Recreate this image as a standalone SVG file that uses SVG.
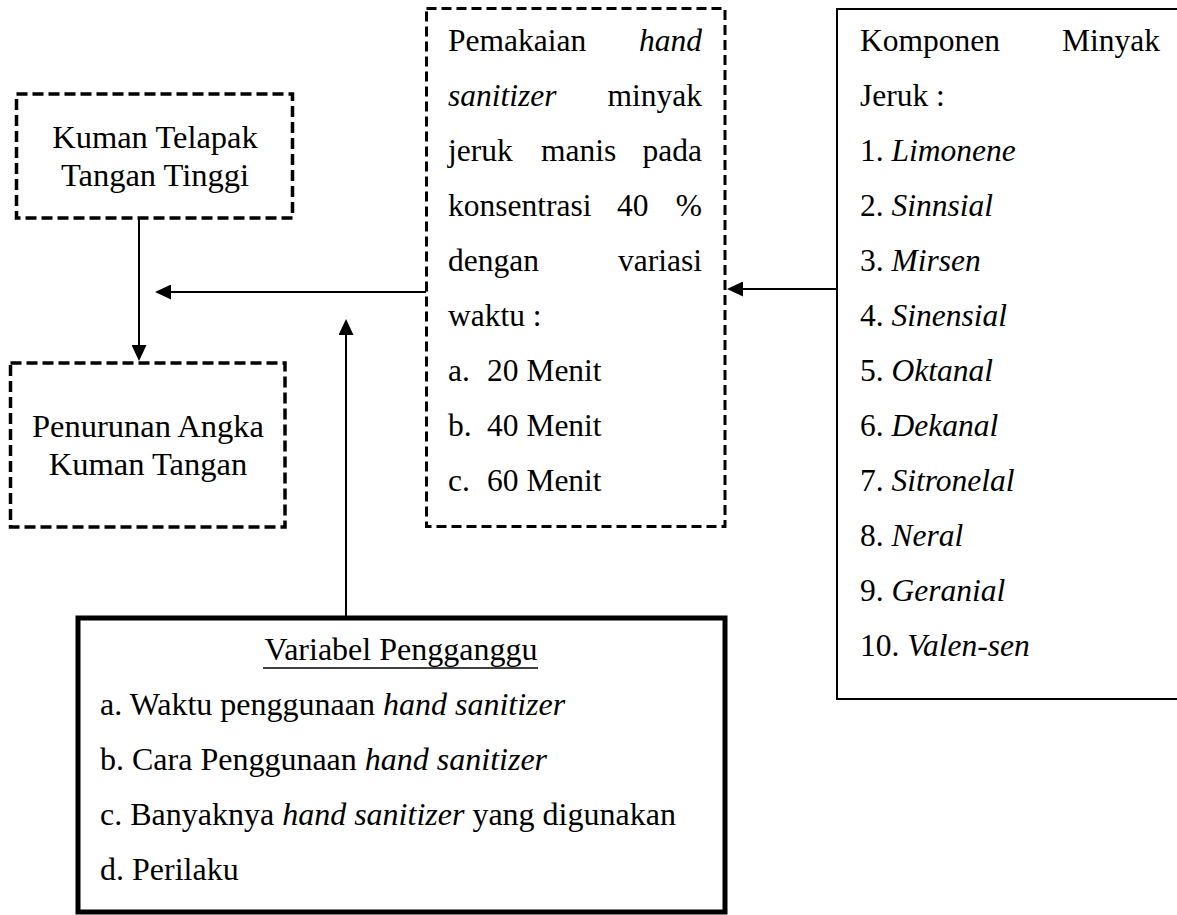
<svg xmlns="http://www.w3.org/2000/svg" width="1177" height="915" viewBox="0 0 1177 915">
  <style>
    text { font-family: "Liberation Serif", "Times New Roman", serif; font-size: 31.5px; fill: #000; }
    .big { font-size: 32.5px; }
    .bot { font-size: 32px; }
    .it { font-style: italic; }
    .mid { text-anchor: middle; }
    .end { text-anchor: end; }
    .dash1 { fill: #fff; stroke: #000; stroke-width: 3.5; stroke-dasharray: 11 5; }
    .dash2 { fill: #fff; stroke: #000; stroke-width: 3; stroke-dasharray: 10 5; }
    .solid { fill: #fff; stroke: #000; stroke-width: 2; }
    .thick { fill: #fff; stroke: #000; stroke-width: 5; }
    .conn { stroke: #000; stroke-width: 2; fill: none; marker-end: url(#arrow); }
  </style>
  <defs>
    <marker id="arrow" markerUnits="userSpaceOnUse" markerWidth="16" markerHeight="15" refX="14" refY="7.5" orient="auto">
      <path d="M0,0 L16,7.5 L0,15 Z" fill="#000"/>
    </marker>
  </defs>
  <rect width="1177" height="915" fill="#fff"/>

  <g id="connectors">
    <line class="conn" x1="139" y1="218" x2="139" y2="359"/>
    <line class="conn" x1="426" y1="292" x2="157" y2="292"/>
    <line class="conn" x1="837" y1="289" x2="729" y2="289"/>
    <line class="conn" x1="346" y1="616" x2="346" y2="321"/>
  </g>

  <g id="kuman-telapak">
    <rect class="dash1" x="16.5" y="94" width="276" height="124"/>
    <text class="mid big" x="155" y="148">Kuman Telapak</text>
    <text class="mid big" x="155" y="186">Tangan Tinggi</text>
  </g>

  <g id="penurunan">
    <rect class="dash1" x="10.5" y="363" width="274.5" height="164"/>
    <text class="mid big" x="148" y="436.5">Penurunan Angka</text>
    <text class="mid big" x="148" y="474.5">Kuman Tangan</text>
  </g>

  <g id="pemakaian">
    <rect class="dash2" x="426.5" y="8.5" width="298.5" height="518"/>
    <text x="448" y="51">Pemakaian</text>
    <text class="end it" x="702" y="51">hand</text>
    <text class="it" x="448" y="106">sanitizer</text>
    <text class="end" x="702" y="106">minyak</text>
    <text x="448" y="161">jeruk</text>
    <text x="541" y="161">manis</text>
    <text class="end" x="702" y="161">pada</text>
    <text x="448" y="216">konsentrasi</text>
    <text x="617" y="216">40</text>
    <text class="end" x="702" y="216">%</text>
    <text x="448" y="271">dengan</text>
    <text class="end" x="702" y="271">variasi</text>
    <text x="448" y="326">waktu :</text>
    <text x="448" y="381">a.</text>
    <text x="487" y="381">20 Menit</text>
    <text x="448" y="436">b.</text>
    <text x="487" y="436">40 Menit</text>
    <text x="448" y="491">c.</text>
    <text x="487" y="491">60 Menit</text>
  </g>

  <g id="komponen">
    <rect class="solid" x="837" y="9" width="345" height="690"/>
    <text x="860" y="51">Komponen</text>
    <text class="end" x="1160" y="51">Minyak</text>
    <text x="860" y="106">Jeruk :</text>
    <text x="860" y="161">1. <tspan class="it">Limonene</tspan></text>
    <text x="860" y="216">2. <tspan class="it">Sinnsial</tspan></text>
    <text x="860" y="271">3. <tspan class="it">Mirsen</tspan></text>
    <text x="860" y="326">4. <tspan class="it">Sinensial</tspan></text>
    <text x="860" y="381">5. <tspan class="it">Oktanal</tspan></text>
    <text x="860" y="436">6. <tspan class="it">Dekanal</tspan></text>
    <text x="860" y="491">7. <tspan class="it">Sitronelal</tspan></text>
    <text x="860" y="546">8. <tspan class="it">Neral</tspan></text>
    <text x="860" y="601">9. <tspan class="it">Geranial</tspan></text>
    <text x="860" y="656">10. <tspan class="it">Valen-sen</tspan></text>
  </g>

  <g id="variabel-pengganggu">
    <rect class="thick" x="78" y="618" width="647" height="294"/>
    <text class="mid bot" x="401" y="660">Variabel Pengganggu</text>
    <line x1="263" y1="668" x2="538" y2="668" stroke="#000" stroke-width="1.5"/>
    <text class="bot" x="100" y="715">a. Waktu penggunaan <tspan class="it">hand sanitizer</tspan></text>
    <text class="bot" x="100" y="770">b. Cara Penggunaan <tspan class="it">hand sanitizer</tspan></text>
    <text class="bot" x="100" y="825">c. Banyaknya <tspan class="it">hand sanitizer</tspan> yang digunakan</text>
    <text class="bot" x="100" y="880">d. Perilaku</text>
  </g>
</svg>
